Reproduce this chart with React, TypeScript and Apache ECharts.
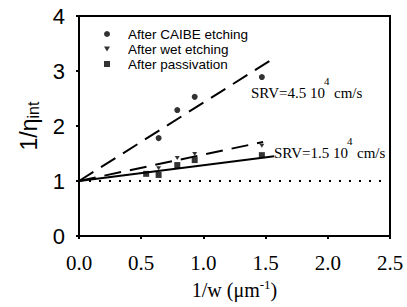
import React, { useEffect, useRef } from "react";
import * as echarts from "echarts";

const caibe: [number, number][] = [[0.64, 1.78], [0.79, 2.29], [0.93, 2.53], [1.47, 2.89]];
const wet: [number, number][] = [[0.64, 1.23], [0.79, 1.42], [0.93, 1.49], [1.47, 1.64]];
const passiv: [number, number][] = [[0.54, 1.13], [0.64, 1.11], [0.79, 1.29], [0.93, 1.38], [1.47, 1.47]];
const fitCaibe: [number, number][] = [[0, 1], [1.53, 3.18]];
const fitWet: [number, number][] = [[0, 1], [1.48, 1.71]];
const fitPassiv: [number, number][] = [[0, 1], [1.57, 1.45]];
const baseline: [number, number][] = [[0, 1], [2.5, 1]];
const legendNames = ["After CAIBE etching", "After wet etching", "After passivation"];
const srvLabels = ["SRV=4.5 10", "SRV=1.5 10"];

const SANS = "Liberation Sans, Arial, sans-serif";
const SERIF = "Liberation Serif, Times New Roman, serif";

function srvText(main: string, x: number, cy: number) {
  const common = { fill: "#000", fontFamily: SERIF, verticalAlign: "middle" as const };
  return [
    { type: "text", x, y: cy, style: { ...common, text: main, fontSize: 15 } },
    { type: "text", x: x + 73, y: cy - 12, style: { ...common, text: "4", fontSize: 11 } },
    { type: "text", x: x + 83, y: cy, style: { ...common, text: "cm/s", fontSize: 15 } },
  ];
}

export default function App() {
  const ref = useRef<HTMLDivElement>(null);
  useEffect(() => {
    const chart = echarts.init(ref.current!, null, { renderer: "svg" });
    chart.setOption({
      animation: false,
      backgroundColor: "#fff",
      grid: { left: 79, right: 17, top: 16, bottom: 71, show: true, borderColor: "#000", borderWidth: 2 },
      legend: {
        data: legendNames,
        orient: "vertical",
        left: 99,
        top: 22,
        itemWidth: 6,
        itemHeight: 6,
        itemGap: 1,
        textStyle: { fontFamily: SANS, fontSize: 13.5, color: "#000", padding: [0, 0, 0, 13] },
      },
      xAxis: {
        type: "value",
        min: 0,
        max: 2.5,
        interval: 0.5,
        axisLine: { lineStyle: { color: "#000", width: 2 } },
        axisTick: { inside: false, length: 3, lineStyle: { color: "#000", width: 2 } },
        splitLine: { show: false },
        axisLabel: {
          formatter: (v: number) => v.toFixed(1),
          fontFamily: SERIF,
          fontSize: 21,
          color: "#000",
          margin: 16,
        },
        name: "1/w (\u03bcm{sup|-1})",
        nameLocation: "middle",
        nameGap: 42,
        nameTextStyle: {
          fontFamily: SERIF,
          fontSize: 20,
          color: "#000",
          rich: { sup: { fontFamily: SERIF, fontSize: 13, color: "#000", padding: [0, 0, 10, 0] } },
        },
      },
      yAxis: {
        type: "value",
        min: 0,
        max: 4,
        interval: 1,
        axisLine: { lineStyle: { color: "#000", width: 2 } },
        axisTick: { inside: false, length: 3, lineStyle: { color: "#000", width: 2 } },
        splitLine: { show: false },
        axisLabel: { fontFamily: SANS, fontSize: 22, color: "#000", margin: 14 },
        name: "{a|1/\u03b7}{sub|int}",
        nameLocation: "middle",
        nameGap: 37,
        nameTextStyle: {
          rich: {
            a: { fontFamily: SANS, fontSize: 23, color: "#000" },
            sub: { fontFamily: SANS, fontSize: 16, color: "#000", padding: [9, 0, 0, 0] },
          },
        },
      },
      series: [
        {
          name: legendNames[0],
          type: "scatter",
          data: caibe,
          symbol: "circle",
          symbolSize: 6,
          itemStyle: { color: "#000" },
          z: 5,
        },
        {
          name: legendNames[1],
          type: "scatter",
          data: wet,
          symbol: "path://M0,0L10,0L5,8Z",
          symbolSize: [5, 4],
          itemStyle: { color: "#000" },
          z: 5,
        },
        {
          name: legendNames[2],
          type: "scatter",
          data: passiv,
          symbol: "rect",
          symbolSize: 6,
          itemStyle: { color: "#000" },
          z: 5,
        },
        {
          type: "line",
          data: fitCaibe,
          symbol: "none",
          lineStyle: { color: "#000", width: 2, type: [17, 9] },
        },
        {
          type: "line",
          data: fitWet,
          symbol: "none",
          lineStyle: { color: "#000", width: 2, type: [17, 9] },
        },
        {
          type: "line",
          data: fitPassiv,
          symbol: "none",
          lineStyle: { color: "#000", width: 2 },
        },
        {
          type: "line",
          data: baseline,
          symbol: "none",
          lineStyle: { color: "#000", width: 2, type: [2, 8] },
        },
      ],
      graphic: [...srvText(srvLabels[0], 251, 93), ...srvText(srvLabels[1], 274, 153)],
    });
    return () => chart.dispose();
  }, []);
  return <div ref={ref} style={{ width: 407, height: 307, position: "absolute", left: 0, top: 0 }} />;
}
